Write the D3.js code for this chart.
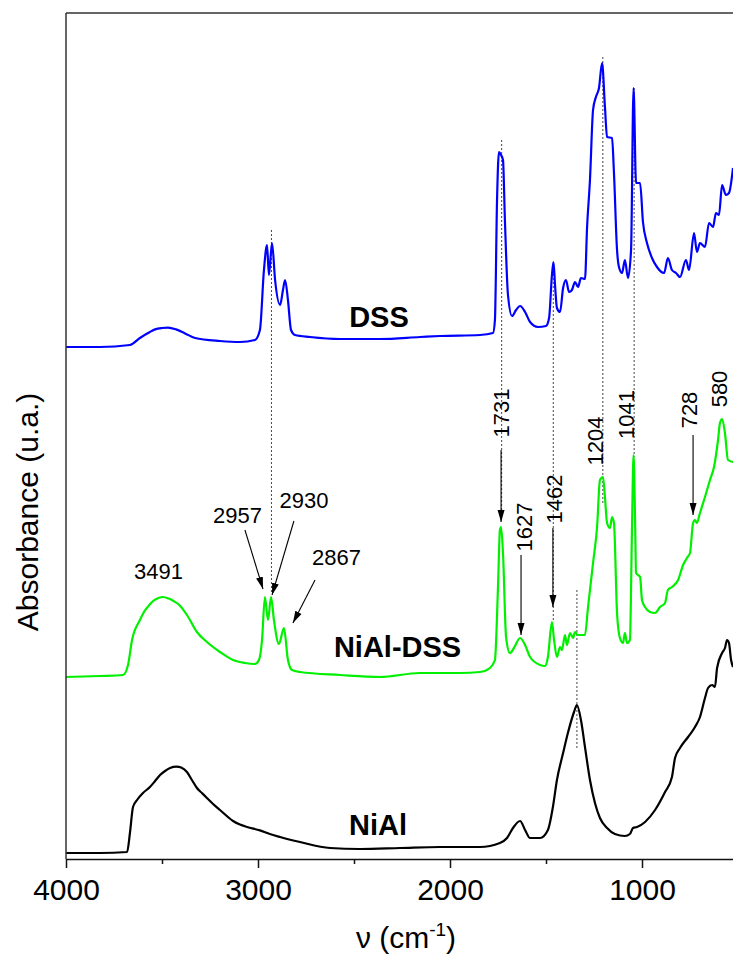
<!doctype html>
<html lang="en">
<head>
<meta charset="utf-8">
<title>FTIR spectra DSS / NiAl-DSS / NiAl</title>
<script src="https://cdn.jsdelivr.net/npm/d3@7"></script>
<style>
  body { margin: 0; background: #fff; font-family: "Liberation Sans", Arial, sans-serif; }
  svg text { font-family: "Liberation Sans", Arial, sans-serif; fill: #000; }
</style>
</head>
<body>
<svg id="chart" width="733" height="954"></svg>
<script>
// spectra: [wavenumber cm-1, absorbance (a.u., stacked)]
var dss = [[4000,2.56],[3823,2.56],[3667,2.57],[3615,2.605],[3563,2.635],[3536,2.648],[3500,2.655],[3469,2.657],[3427,2.648],
  [3380,2.628],[3328,2.605],[3198,2.59],[3094,2.585],
  [3016,2.595],[2990,2.645],[2969,2.945],[2953,3.07],[2943,2.92],[2927,3.08],[2911,2.895],[2885,2.77],[2870,2.845],[2859,2.895],
  [2844,2.795],[2828,2.645],[2807,2.62],[2729,2.61],[2573,2.60],[2365,2.60],[2156,2.61],[2052,2.615],[1844,2.62],[1776,2.63],
  [1766,2.695],[1755,3.295],[1745,3.535],[1734,3.52],[1724,3.495],[1714,3.195],[1698,2.82],[1677,2.715],[1656,2.745],[1635,2.765],
  [1609,2.735],[1583,2.685],[1542,2.66],[1500,2.665],[1484,2.705],[1469,2.92],[1461,2.985],[1453,2.87],[1443,2.755],[1427,2.735],
  [1411,2.855],[1396,2.895],[1380,2.835],[1365,2.845],[1349,2.885],[1333,2.86],[1318,2.905],[1297,2.90],[1286,3.16],[1271,3.395],
  [1255,3.745],[1240,3.81],[1224,3.855],[1208,3.98],[1193,3.76],[1182,3.61],[1156,3.605],[1146,3.43],[1130,3.045],[1120,2.96],
  [1104,2.93],[1089,2.995],[1073,2.905],[1057,3.045],[1044,3.855],[1031,3.38],[1010,3.38],[995,3.185],[974,3.08],[948,3.005],
  [922,2.96],[885,2.93],[865,3.005],[844,2.945],[823,2.93],[802,2.91],[771,2.995],[755,2.945],[729,3.13],[714,3.035],[698,3.08],
  [672,3.06],[651,3.18],[630,3.16],[615,3.23],[599,3.22],[583,3.37],[563,3.32],[547,3.33],[526,3.455]];

var nialDss = [[4000,0.91],[3823,0.915],[3703,0.92],[3677,0.97],[3656,1.095],[3615,1.195],[3594,1.235],[3573,1.262],[3552,1.285],
  [3530,1.30],[3495,1.31],[3465,1.302],[3440,1.29],[3410,1.27],[3370,1.22],[3318,1.135],[3266,1.085],[3198,1.035],[3130,0.995],
  [3068,0.98],[3016,0.975],[2995,0.995],
  [2979,1.095],[2964,1.31],[2948,1.195],[2932,1.31],[2917,1.195],[2891,1.075],[2865,1.155],[2844,0.995],[2823,0.945],[2781,0.935],
  [2573,0.92],[2365,0.91],[2156,0.93],[1948,0.93],[1844,0.935],[1792,0.955],[1766,0.995],[1750,1.36],[1740,1.645],[1734,1.66],
  [1724,1.53],[1708,1.11],[1688,1.03],[1667,1.055],[1635,1.105],[1609,1.07],[1583,1.01],[1531,0.97],[1505,0.965],[1490,1.01],
  [1469,1.185],[1458,1.095],[1443,1.01],[1427,1.06],[1417,1.045],[1401,1.12],[1391,1.07],[1375,1.13],[1359,1.105],[1349,1.135],
  [1333,1.12],[1297,1.12],[1281,1.26],[1255,1.48],[1234,1.66],[1219,1.895],[1203,1.91],[1193,1.81],[1182,1.68],[1167,1.655],
  [1156,1.71],[1146,1.68],[1130,1.23],[1115,1.105],[1099,1.08],[1089,1.13],[1078,1.08],[1063,1.095],[1052,1.66],[1044,2.02],
  [1036,1.695],[1031,1.43],[1010,1.41],[1000,1.295],[984,1.26],[958,1.235],[932,1.23],[906,1.26],[880,1.28],[865,1.345],[844,1.36],
  [812,1.395],[786,1.47],[766,1.505],[750,1.53],[734,1.68],[724,1.695],[714,1.68],[698,1.73],[672,1.81],[646,1.895],[625,1.96],
  [604,2.095],[594,2.18],[583,2.20],[568,2.13],[552,1.995],[526,1.985]];

var nial = [[4000,0.03],[3823,0.03],[3682,0.035],[3667,0.13],[3651,0.26],[3630,0.295],[3599,0.33],[3563,0.36],[3536,0.39],
  [3510,0.42],[3484,0.44],[3458,0.455],[3425,0.462],[3400,0.457],[3370,0.435],[3344,0.395],[3318,0.355],[3292,0.33],[3266,0.305],
  [3234,0.275],[3198,0.245],[3130,0.19],[3094,0.172],[3057,0.16],[2990,0.143],[2938,0.125],[2885,0.11],
  [2781,0.085],[2625,0.055],[2469,0.05],[2260,0.055],[2052,0.06],[1844,0.06],[1740,0.08],[1703,0.105],[1672,0.155],[1635,0.19],
  [1609,0.145],[1583,0.105],[1531,0.105],[1490,0.145],[1464,0.26],[1443,0.395],[1411,0.53],[1386,0.63],[1354,0.735],[1339,0.77],
  [1318,0.695],[1297,0.56],[1271,0.395],[1245,0.28],[1219,0.205],[1182,0.155],[1141,0.125],[1089,0.115],[1063,0.125],[1047,0.155],
  [1026,0.16],[984,0.185],[932,0.245],[880,0.335],[844,0.41],[828,0.505],[802,0.555],[760,0.61],[724,0.66],[698,0.71],[672,0.805],
  [656,0.855],[635,0.87],[620,0.86],[609,0.955],[583,1.03],[568,1.055],[557,1.095],[547,1.08],[536,0.995],[526,0.96]];

var seriesNames = ['DSS', 'NiAl-DSS', 'NiAl'];
var seriesColors = ['#0000ff', '#00f000', '#000000'];
// where the bold series names sit [wavenumber, absorbance]
var nameSpots = [[2370,2.66],[2273,1.01],[2375,0.12]];

// dotted guides [wavenumber, top, bottom]
var guides = [[2930,3.145,1.33],[1731,3.595,1.695],[1462,2.985,1.195],[1204,4.01,1.78],[1041,3.855,2.01],[1339,1.345,0.555]];

// horizontal peak labels [text, wavenumber, absorbance(baseline)]
var flatLabels = [['3491',3518,1.40],['2957',3107,1.68],['2930',2760,1.755],['2867',2591,1.47]];
// rotated peak labels [text, wavenumber, absorbance(centre)]
var upLabels = [['1731',1734,2.23],['1627',1615,1.66],['1462',1458,1.80],['1204',1242,2.09],['1041',1083,2.2225],['728',755,2.245],['580',597,2.35]];
// arrows [from wn, from abs, to wn, to abs]
var arrows = [[3068,1.645,2974,1.35],[2813,1.69,2927,1.32],[2703,1.395,2818,1.18],
  [1734,2.045,1734,1.685],[1630,1.52,1630,1.12],[1464,1.655,1464,1.26],[734,2.12,734,1.72]];

var majorTicks = [4000, 3000, 2000, 1000];
var minorTicks = [3500, 2500, 1500];

var svg = d3.select('#chart');
var plotL = 66, plotT = 13, plotB = 859, plotR = 738;

var x = d3.scaleLinear().domain([4000, 500]).range([plotL, plotR]);
var y = d3.scaleLinear().domain([0, 4.23]).range([plotB, plotT]);

var defs = svg.append('defs');
defs.append('clipPath').attr('id', 'plotclip')
  .append('rect').attr('x', plotL).attr('y', plotT).attr('width', plotR - plotL).attr('height', plotB - plotT);

var marker = defs.append('marker')
  .attr('id', 'head').attr('markerUnits', 'userSpaceOnUse')
  .attr('viewBox', '0 -4 12 8').attr('refX', 12).attr('refY', 0)
  .attr('markerWidth', 12).attr('markerHeight', 8).attr('orient', 'auto');
marker.append('path').attr('d', 'M0,-3.5L12,0L0,3.5Z').attr('fill', '#000');

var plot = svg.append('g').attr('clip-path', 'url(#plotclip)');

// dotted guides behind the spectra
plot.selectAll('line.guide').data(guides).join('line')
  .attr('class', 'guide')
  .attr('x1', d => x(d[0])).attr('x2', d => x(d[0]))
  .attr('y1', d => y(d[1])).attr('y2', d => y(d[2]))
  .attr('stroke', '#444').attr('stroke-width', 1).attr('stroke-dasharray', '2,2');

var line = d3.line().x(d => x(d[0])).y(d => y(d[1])).curve(d3.curveMonotoneX);

plot.selectAll('path.spec').data([dss, nialDss, nial]).join('path')
  .attr('class', 'spec')
  .attr('d', line)
  .attr('fill', 'none')
  .attr('stroke', (d, i) => seriesColors[i])
  .attr('stroke-width', 2.2)
  .attr('stroke-linejoin', 'round');

// frame
svg.append('line').attr('x1', plotL).attr('x2', 733).attr('y1', plotT).attr('y2', plotT)
  .attr('stroke', '#333').attr('stroke-width', 1.5);
svg.append('line').attr('x1', plotL).attr('x2', plotL).attr('y1', plotT).attr('y2', plotB)
  .attr('stroke', '#333').attr('stroke-width', 1.5);

var xAxis = svg.append('g').attr('transform', 'translate(0,' + plotB + ')')
  .call(d3.axisBottom(x).tickValues(majorTicks).tickSize(9).tickPadding(11).tickSizeOuter(0).tickFormat(d3.format('d')));
xAxis.select('.domain').attr('stroke', '#111').attr('stroke-width', 1.5);
xAxis.selectAll('.tick line').attr('stroke', '#111').attr('stroke-width', 1.5);
xAxis.selectAll('.tick text').attr('font-size', 30).attr('font-family', '"Liberation Sans", Arial, sans-serif').attr('fill', '#000');

svg.append('g').attr('transform', 'translate(0,' + plotB + ')')
  .call(d3.axisBottom(x).tickValues(minorTicks).tickSize(5).tickFormat('').tickSizeOuter(0))
  .call(g => g.select('.domain').remove())
  .selectAll('.tick line').attr('stroke', '#111').attr('stroke-width', 1.5);

// axis titles
var xt = svg.append('text').attr('x', 406).attr('y', 948).attr('text-anchor', 'middle').attr('font-size', 30);
xt.append('tspan').text('\u03bd (cm');
xt.append('tspan').attr('font-size', 19).attr('dy', -12).text('-1');
xt.append('tspan').attr('dy', 12).text(')');

svg.append('text').attr('transform', 'translate(38,512) rotate(-90)')
  .attr('text-anchor', 'middle').attr('font-size', 30).text('Absorbance (u.a.)');

// series names
svg.selectAll('text.name').data(seriesNames).join('text')
  .attr('class', 'name')
  .attr('x', (d, i) => x(nameSpots[i][0])).attr('y', (d, i) => y(nameSpots[i][1]))
  .attr('text-anchor', 'middle').attr('font-size', 29).attr('font-weight', 'bold')
  .text(d => d);

// peak annotations
svg.selectAll('line.arrow').data(arrows).join('line')
  .attr('class', 'arrow')
  .attr('x1', d => x(d[0])).attr('y1', d => y(d[1]))
  .attr('x2', d => x(d[2])).attr('y2', d => y(d[3]))
  .attr('stroke', '#000').attr('stroke-width', 1.1).attr('marker-end', 'url(#head)');

svg.selectAll('text.flat').data(flatLabels).join('text')
  .attr('class', 'flat')
  .attr('x', d => x(d[1])).attr('y', d => y(d[2]))
  .attr('text-anchor', 'middle').attr('font-size', 22)
  .text(d => d[0]);

svg.selectAll('text.up').data(upLabels).join('text')
  .attr('class', 'up')
  .attr('transform', d => 'translate(' + x(d[1]) + ',' + y(d[2]) + ') rotate(-90)')
  .attr('dy', '0.36em').attr('text-anchor', 'middle').attr('font-size', 22)
  .text(d => d[0]);
</script>
</body>
</html>
